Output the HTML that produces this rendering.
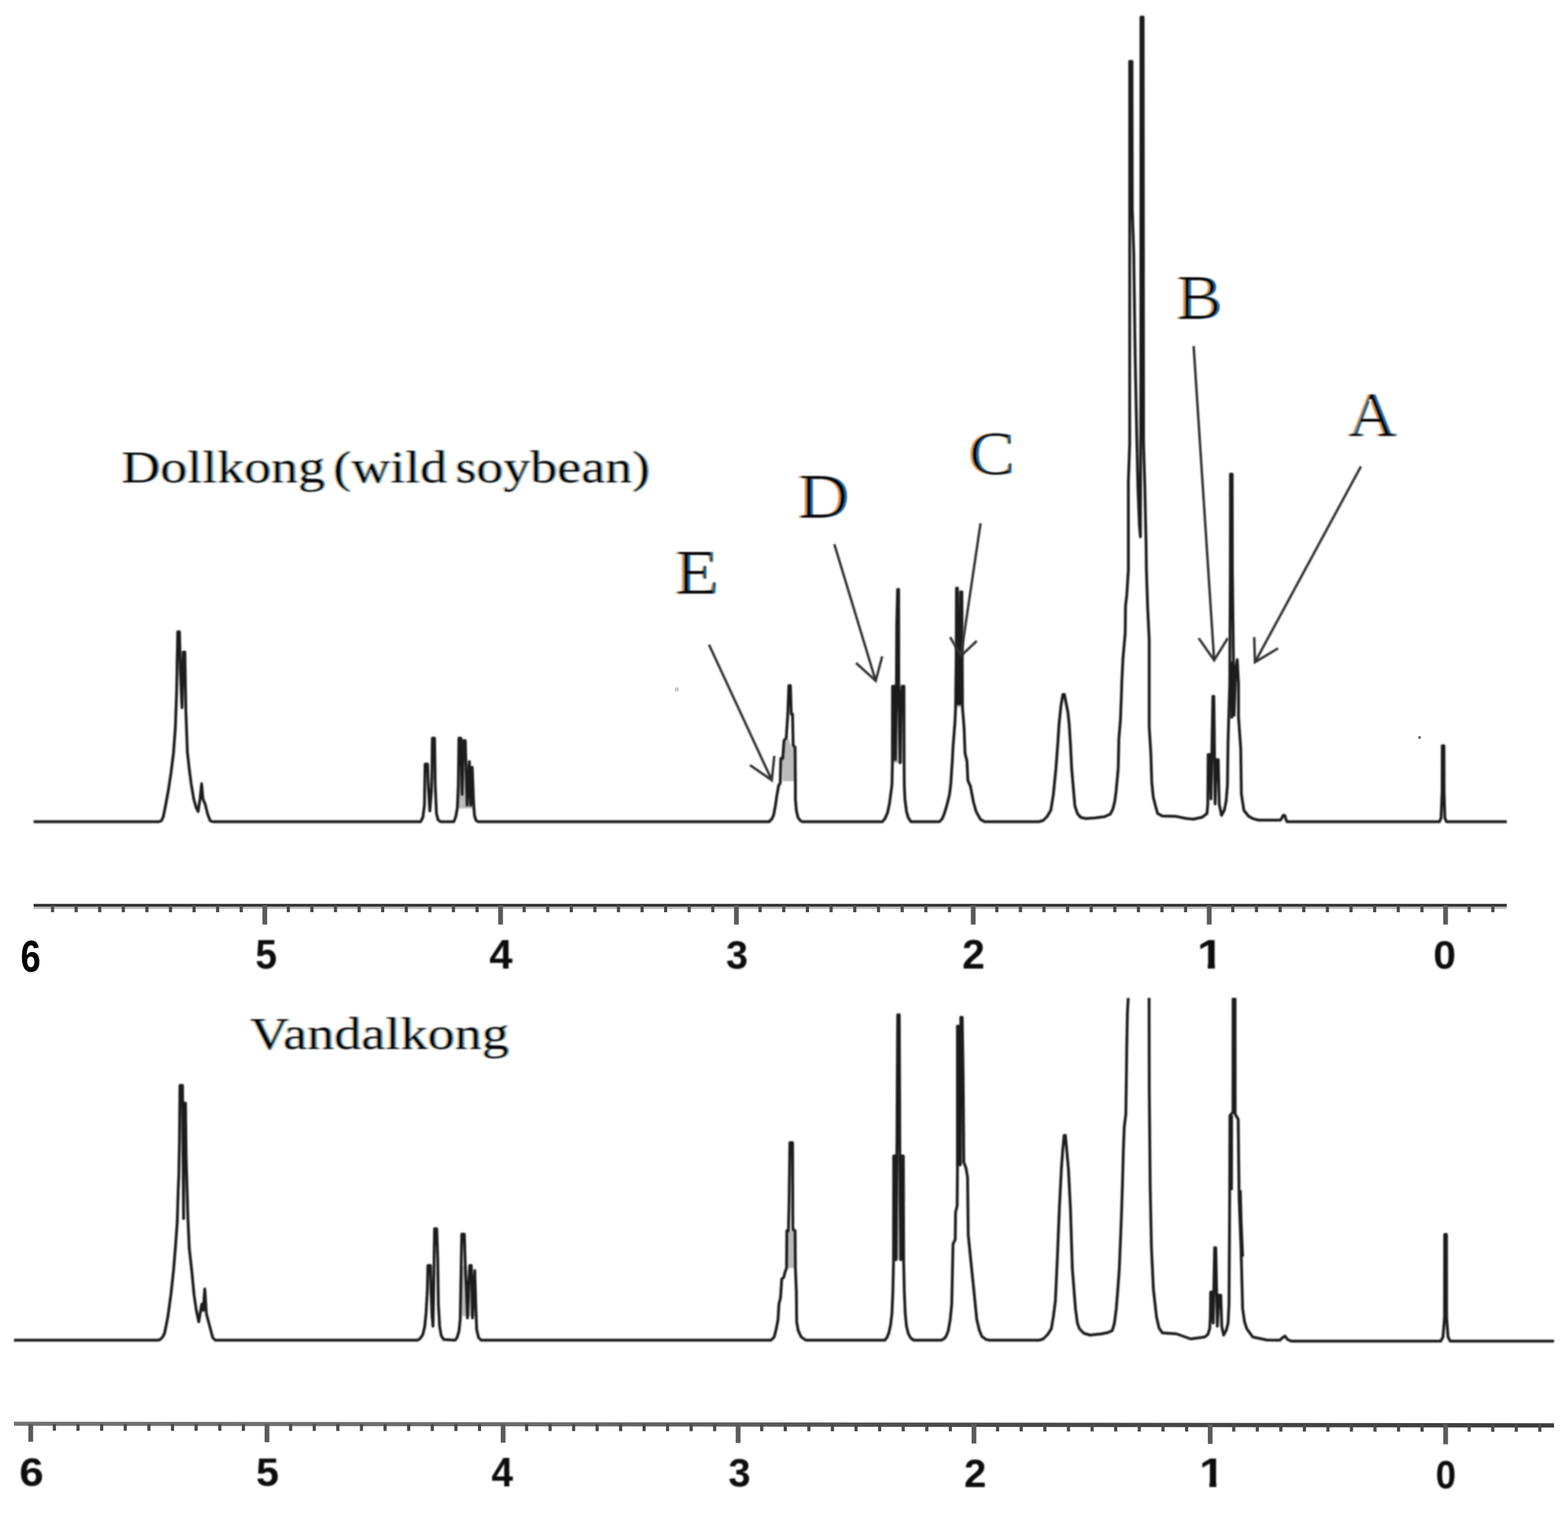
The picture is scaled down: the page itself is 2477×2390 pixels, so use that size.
<!DOCTYPE html>
<html lang="en">
<head>
<meta charset="utf-8">
<title>NMR spectra</title>
<style>
html,body{margin:0;padding:0;background:#fff;}
body{width:2477px;height:2390px;overflow:hidden;}
svg{display:block;}
</style>
</head>
<body>
<svg width="2477" height="2390" viewBox="0 0 2477 2390">
<rect width="2477" height="2390" fill="#fff"/>
<defs>
<filter id="soft" x="-2%" y="-2%" width="104%" height="104%"><feGaussianBlur stdDeviation="0.8"/></filter>
<filter id="soft2" x="-5%" y="-20%" width="110%" height="140%"><feGaussianBlur stdDeviation="1.3"/></filter>
<filter id="ct" x="-5%" y="-10%" width="110%" height="120%" color-interpolation-filters="sRGB">
<feOffset in="SourceAlpha" dx="-1" result="a1"/>
<feOffset in="SourceAlpha" dx="3" result="a2"/>
<feComposite in="a1" in2="a2" operator="out" result="lband"/>
<feFlood flood-color="#dc8c3c"/>
<feComposite in2="lband" operator="in" result="L"/>
<feOffset in="SourceAlpha" dx="1" result="b1"/>
<feOffset in="SourceAlpha" dx="-3" result="b2"/>
<feComposite in="b1" in2="b2" operator="out" result="rband"/>
<feFlood flood-color="#0a6ac4"/>
<feComposite in2="rband" operator="in" result="R"/>
<feBlend in="L" in2="R" mode="multiply" result="LR"/>
<feMorphology in="SourceAlpha" operator="erode" radius="3 0" result="core"/>
<feMerge><feMergeNode in="LR"/><feMergeNode in="core"/></feMerge>
<feGaussianBlur stdDeviation="0.8"/>
</filter>
<filter id="ct2" x="-5%" y="-10%" width="110%" height="120%" color-interpolation-filters="sRGB">
<feOffset in="SourceAlpha" dx="-2" result="a1"/>
<feOffset in="SourceAlpha" dx="1" result="a2"/>
<feComposite in="a1" in2="a2" operator="out" result="lband"/>
<feFlood flood-color="#f0b870"/>
<feComposite in2="lband" operator="in" result="L"/>
<feOffset in="SourceAlpha" dx="2" result="b1"/>
<feOffset in="SourceAlpha" dx="-1" result="b2"/>
<feComposite in="b1" in2="b2" operator="out" result="rband"/>
<feFlood flood-color="#4a9eea"/>
<feComposite in2="rband" operator="in" result="R"/>
<feBlend in="L" in2="R" mode="multiply" result="LR"/>
<feMorphology in="SourceAlpha" operator="erode" radius="1 0" result="core"/>
<feMerge><feMergeNode in="LR"/><feMergeNode in="core"/></feMerge>
<feGaussianBlur stdDeviation="0.8"/>
</filter>
</defs>
<g fill="none" stroke="#1e1e1e" stroke-width="4.5" stroke-linejoin="round" stroke-linecap="butt" filter="url(#soft)">
<polyline points="53.0,1298.0 251.0,1298.0 255.0,1296.5 258.0,1290.0 262.0,1270.0 266.0,1248.0 270.0,1222.0 274.0,1190.0 277.0,1150.0 279.0,1093.0 280.0,1040.0 280.8,998.0 283.5,998.0 285.0,1060.0 287.5,1118.0 289.5,1030.0 292.0,1030.0 293.5,1120.0 296.0,1188.0 299.0,1215.0 302.0,1238.0 306.0,1262.0 310.0,1276.0 313.0,1282.0 316.0,1262.0 318.5,1238.0 320.5,1262.0 324.0,1270.0 328.0,1286.0 332.0,1296.5 336.0,1298.0 664.5,1298.0 668.0,1291.0 670.5,1272.0 671.5,1207.0 675.5,1207.0 676.5,1240.0 679.0,1281.0 681.5,1250.0 682.3,1225.0 683.0,1166.0 686.5,1166.0 687.5,1240.0 689.5,1285.0 692.0,1295.0 696.0,1298.0 717.0,1298.0 720.0,1290.0 722.5,1276.0 724.0,1240.0 725.0,1166.0 728.0,1166.0 730.0,1255.0 732.0,1170.0 735.0,1170.0 738.0,1272.0 741.5,1203.0 743.6,1272.0 746.0,1212.0 748.0,1265.0 749.5,1288.0 752.0,1296.0 755.0,1298.0 1214.8,1298.0 1219.0,1294.0 1222.0,1288.0 1225.0,1272.0 1227.0,1258.0 1230.0,1241.0 1232.5,1237.0 1233.5,1198.0 1236.5,1198.0 1238.5,1170.0 1242.0,1166.0 1244.5,1128.0 1246.2,1083.0 1248.6,1083.0 1250.0,1128.0 1252.0,1128.0 1253.0,1178.0 1256.0,1180.0 1256.5,1238.0 1256.5,1262.0 1258.0,1280.0 1260.5,1291.0 1264.0,1296.0 1267.0,1298.0 1394.0,1298.0 1398.0,1293.0 1402.0,1284.0 1405.0,1270.0 1407.0,1255.0 1409.0,1240.0 1409.8,1205.0 1410.0,1084.0 1414.0,1084.0 1414.5,1200.0 1416.0,1100.0 1416.6,988.0 1418.0,931.0 1419.6,931.0 1419.8,1082.0 1422.0,1205.0 1424.0,1100.0 1425.0,1084.0 1428.0,1084.0 1428.2,1205.0 1428.5,1240.0 1429.5,1262.0 1432.0,1282.0 1435.0,1292.0 1439.0,1298.0 1484.0,1298.0 1488.0,1294.0 1491.5,1286.0 1495.5,1273.0 1500.0,1255.0 1502.0,1238.0 1504.5,1200.0 1505.5,1180.0 1508.5,1142.0 1509.5,1120.0 1510.5,1040.0 1511.0,929.0 1512.5,929.0 1513.5,1112.0 1516.0,1112.0 1517.5,935.0 1519.5,935.0 1520.5,1118.0 1523.0,1150.0 1524.5,1190.0 1527.5,1202.0 1529.0,1233.0 1533.0,1242.0 1537.8,1267.0 1542.0,1282.0 1549.0,1294.5 1555.5,1298.0 1641.0,1298.0 1648.0,1296.0 1654.0,1290.0 1660.0,1280.0 1664.0,1255.0 1668.0,1215.0 1671.0,1175.0 1673.0,1144.0 1676.0,1115.0 1679.0,1097.0 1681.5,1097.0 1684.0,1110.0 1687.0,1125.0 1689.0,1144.0 1691.0,1175.0 1693.0,1215.0 1696.0,1250.0 1698.0,1273.0 1702.0,1285.0 1707.0,1291.0 1715.0,1293.0 1730.0,1292.0 1745.0,1290.0 1754.0,1286.0 1758.0,1278.0 1761.0,1266.0 1763.0,1251.0 1765.0,1230.0 1766.5,1213.0 1767.5,1167.0 1770.0,1137.0 1771.8,1090.0 1772.0,1080.0 1774.0,1040.0 1777.5,1000.0 1778.0,957.0 1780.0,940.0 1782.5,900.0 1782.5,761.0 1784.6,700.0 1784.6,97.0 1788.2,97.0 1788.7,330.0 1791.0,400.0 1793.2,560.0 1795.6,680.0 1797.6,770.0 1800.0,830.0 1801.5,848.0 1802.2,600.0 1802.4,27.0 1805.8,27.0 1806.3,500.0 1806.5,700.0 1808.5,770.0 1810.5,860.0 1811.0,900.0 1813.0,960.0 1815.4,1010.0 1815.4,1148.0 1818.0,1190.0 1819.5,1236.0 1821.8,1259.0 1825.6,1274.0 1828.7,1285.0 1836.0,1289.0 1858.0,1289.6 1873.0,1292.7 1885.0,1294.0 1899.0,1291.0 1906.7,1285.0 1908.0,1270.0 1908.5,1192.0 1911.5,1192.0 1913.0,1262.0 1916.0,1100.0 1917.5,1100.0 1919.5,1270.0 1921.5,1200.0 1924.5,1200.0 1926.0,1270.0 1929.7,1288.0 1934.0,1280.0 1937.0,1265.0 1939.0,1240.0 1940.0,1170.0 1941.5,1120.0 1942.7,1080.0 1943.6,900.0 1943.8,749.0 1946.5,749.0 1946.8,900.0 1948.0,1000.0 1949.5,1130.0 1952.0,1060.0 1954.5,1042.0 1956.5,1080.0 1956.5,1133.0 1960.0,1182.0 1961.0,1254.0 1965.0,1280.0 1972.6,1289.6 1980.0,1293.4 1988.0,1295.5 2000.0,1295.5 2023.0,1295.5 2025.5,1291.0 2027.0,1288.0 2029.5,1288.0 2031.0,1293.0 2033.0,1298.0 2274.0,1298.0 2276.5,1292.0 2278.2,1250.0 2278.4,1178.0 2281.0,1178.0 2281.2,1250.0 2282.5,1292.0 2285.0,1298.0 2380.3,1298.0"/>
<polyline points="22.0,2117.0 250.0,2117.0 253.0,2116.0 257.0,2112.0 260.0,2106.0 265.0,2081.0 270.0,2045.0 274.0,2008.0 277.0,1972.0 280.0,1930.0 281.5,1880.0 282.5,1857.0 283.5,1800.0 284.3,1714.5 288.3,1714.5 289.0,1800.0 290.0,1925.0 290.8,1742.5 293.0,1742.5 294.0,1826.0 296.8,1923.0 299.0,1972.0 303.0,2008.0 306.5,2045.0 310.0,2069.0 314.0,2088.0 318.7,2060.0 321.0,2070.0 323.5,2036.0 326.0,2075.0 331.0,2094.0 336.0,2113.0 340.0,2117.0 660.0,2117.0 664.0,2114.0 668.0,2108.0 671.0,2095.0 673.0,2075.0 675.0,2040.0 676.0,1999.0 680.0,1999.0 681.0,2040.0 682.5,2078.0 684.0,2095.0 685.0,2040.0 686.5,1941.0 690.0,1941.0 691.5,1990.0 692.5,2060.0 694.5,2095.0 697.0,2110.0 701.0,2116.0 719.0,2117.0 722.0,2113.0 725.0,2103.0 727.0,2085.0 728.5,2000.0 729.5,1949.5 733.5,1949.5 735.0,2000.0 737.0,2040.0 738.5,2082.0 740.5,2030.0 742.0,1999.0 744.5,1999.0 746.5,2082.0 748.5,2030.0 750.0,2007.0 751.5,2060.0 753.0,2100.0 756.0,2113.0 760.0,2117.0 1218.0,2117.0 1223.0,2112.0 1226.0,2100.0 1229.0,2085.0 1230.5,2060.0 1233.0,2050.0 1235.0,2020.0 1238.0,2018.0 1240.0,2010.0 1242.5,2003.0 1243.0,1944.0 1245.5,1944.0 1246.5,1900.0 1247.8,1805.0 1252.0,1805.0 1252.5,1942.0 1256.0,1944.0 1256.5,2003.0 1258.0,2040.0 1258.5,2088.0 1261.0,2102.0 1265.7,2112.0 1273.0,2117.0 1397.8,2117.0 1401.0,2113.0 1404.0,2106.0 1407.0,2092.0 1409.0,2075.0 1410.5,2040.0 1411.5,1992.0 1411.8,1826.0 1415.0,1826.0 1415.5,1990.0 1417.0,1800.0 1417.5,1700.0 1418.2,1603.0 1420.6,1603.0 1421.0,1700.0 1421.5,1826.0 1423.0,1990.0 1425.0,1826.0 1427.0,1826.0 1427.5,1992.0 1428.5,2040.0 1430.0,2075.0 1432.0,2095.0 1435.0,2107.0 1439.0,2114.0 1443.7,2117.0 1487.0,2117.0 1491.0,2115.0 1494.5,2111.0 1498.0,2102.0 1501.0,2085.0 1503.5,2060.0 1505.0,1990.0 1505.5,1965.0 1509.0,1958.0 1509.5,1915.0 1512.0,1905.0 1512.5,1850.0 1512.5,1621.0 1514.5,1621.0 1515.5,1840.0 1517.0,1840.0 1517.8,1607.0 1520.0,1607.0 1521.5,1700.0 1522.5,1836.0 1526.0,1845.0 1528.5,1860.0 1529.5,1950.0 1534.0,1995.0 1538.5,2039.0 1543.0,2084.0 1547.0,2101.0 1551.0,2111.0 1557.8,2116.0 1563.0,2117.0 1642.0,2117.0 1648.0,2115.0 1655.0,2108.0 1660.8,2099.0 1664.0,2080.0 1667.2,2055.0 1670.3,1988.0 1673.5,1909.0 1676.7,1846.0 1679.0,1815.0 1681.0,1793.5 1683.0,1793.5 1685.0,1815.0 1687.8,1846.0 1691.0,1909.0 1694.0,2004.0 1699.0,2068.0 1702.0,2090.0 1705.3,2099.0 1712.0,2106.0 1722.0,2109.0 1740.0,2107.0 1750.0,2105.0 1757.0,2102.0 1760.5,2090.0 1763.4,2067.0 1766.0,2035.0 1768.2,2004.0 1770.0,1960.0 1771.4,1925.0 1773.0,1877.0 1774.5,1820.0 1776.0,1780.0 1778.5,1760.0 1779.5,1690.0 1780.0,1650.0 1781.0,1600.0 1782.3,1576.3"/>
<polyline points="1815.2,1576.3 1815.5,1718.0 1817.0,1877.0 1819.0,1972.0 1822.0,2036.0 1826.9,2080.0 1831.0,2098.0 1836.4,2105.6 1858.6,2107.0 1880.8,2115.0 1903.0,2112.0 1908.0,2108.0 1911.0,2099.0 1912.0,2080.0 1912.5,2041.0 1915.0,2041.0 1916.5,2090.0 1918.8,1971.0 1920.6,1971.0 1923.0,2095.0 1925.5,2046.0 1928.5,2046.0 1930.0,2095.0 1933.0,2109.0 1937.0,2102.0 1940.0,2090.0 1941.5,2060.0 1942.5,1900.0 1943.0,1762.0 1947.8,1757.0 1948.0,1576.3"/>
<polyline points="1951.0,1576.3 1951.2,1760.0 1956.0,1768.0 1957.5,1893.0 1960.5,1972.0 1963.0,2067.0 1966.0,2088.0 1969.6,2099.0 1979.0,2112.0 2001.4,2116.7 2022.0,2117.0 2026.0,2113.0 2030.0,2110.5 2034.0,2116.0 2040.0,2118.5 2276.0,2118.5 2279.5,2112.0 2282.0,2080.0 2282.2,1950.0 2285.0,1950.0 2285.2,2080.0 2287.5,2112.0 2291.0,2118.5 2455.0,2118.5"/>
<polyline points="1945.6,1762 1945.4,1880"/>
<polyline points="1959.3,1880 1960.6,1930 1963,1985"/>
<polyline points="1945.8,1045 1945.8,1135"/>
<polygon stroke="none" fill="#202020" fill-opacity="0.3" points="725,1192 737,1192 739,1215 747.5,1226 748.5,1277 725,1277"/>
<polygon stroke="none" fill="#202020" fill-opacity="0.3" points="730,2000 736,2000 738.5,2027 748,2030 749.5,2079 730,2079"/>
<polygon stroke="none" fill="#202020" fill-opacity="0.3" points="1510,968 1522,968 1522,1117 1510,1117"/>
<polygon stroke="none" fill="#202020" fill-opacity="0.3" points="1513,1690 1523,1690 1523,1838 1513,1838"/>
<polygon stroke="none" fill="#202020" fill-opacity="0.3" points="1236,1200 1240,1172 1246,1166 1250,1180 1256,1182 1256,1234 1236,1234"/>
<polygon stroke="none" fill="#202020" fill-opacity="0.3" points="1242,1944 1257,1944 1257,2003 1242,2003"/>
<polygon stroke="none" fill="#202020" fill-opacity="0.3" points="1409,1086 1421,1086 1425.5,1131 1425.5,1205 1409,1205"/>
<polygon stroke="none" fill="#202020" fill-opacity="0.3" points="1411,1830 1427,1830 1427,1990 1411,1990"/>
</g>
<g fill="none" stroke="#333" stroke-width="3.9" stroke-linecap="butt" stroke-linejoin="miter" filter="url(#soft)">
<line x1="1120" y1="1018.3" x2="1219.2" y2="1232.4"/>
<polyline points="1184.8,1208.6 1219.2,1232.4 1223.2,1194"/>
<line x1="1318" y1="859.6" x2="1383.4" y2="1075.5"/>
<polyline points="1352.3,1047.3 1383.4,1075.5 1393.6,1036.7"/>
<line x1="1549" y1="826.5" x2="1518" y2="1036"/>
<polyline points="1501,1006.5 1518,1036 1543,1012.5"/>
<line x1="1885.6" y1="546.5" x2="1918" y2="1043"/>
<polyline points="1893.6,1008 1918,1043 1939.6,1008"/>
<line x1="2149.9" y1="736.7" x2="1982.5" y2="1046"/>
<polyline points="1981.3,1006.4 1982.5,1046 2019,1024.2"/>
</g>
<line x1="53" y1="1434.0" x2="2380.3" y2="1434.0" stroke="#bbb" stroke-width="3.6"/>
<line x1="53" y1="1430" x2="2380.3" y2="1430" stroke="#333" stroke-width="4.4"/>
<line x1="2358.3" y1="1430" x2="2358.3" y2="1441.0" stroke="#4a4a4a" stroke-width="5"/>
<line x1="2320.9" y1="1430" x2="2320.9" y2="1441.0" stroke="#4a4a4a" stroke-width="5"/>
<line x1="2283.6" y1="1430" x2="2283.6" y2="1460.5" stroke="#5a5a5a" stroke-width="7.5"/>
<line x1="2246.3" y1="1430" x2="2246.3" y2="1441.0" stroke="#4a4a4a" stroke-width="5"/>
<line x1="2208.9" y1="1430" x2="2208.9" y2="1441.0" stroke="#4a4a4a" stroke-width="5"/>
<line x1="2171.6" y1="1430" x2="2171.6" y2="1441.0" stroke="#4a4a4a" stroke-width="5"/>
<line x1="2134.2" y1="1430" x2="2134.2" y2="1441.0" stroke="#4a4a4a" stroke-width="5"/>
<line x1="2096.9" y1="1430" x2="2096.9" y2="1441.0" stroke="#4a4a4a" stroke-width="5"/>
<line x1="2059.6" y1="1430" x2="2059.6" y2="1441.0" stroke="#4a4a4a" stroke-width="5"/>
<line x1="2022.2" y1="1430" x2="2022.2" y2="1441.0" stroke="#4a4a4a" stroke-width="5"/>
<line x1="1984.9" y1="1430" x2="1984.9" y2="1441.0" stroke="#4a4a4a" stroke-width="5"/>
<line x1="1947.5" y1="1430" x2="1947.5" y2="1441.0" stroke="#4a4a4a" stroke-width="5"/>
<line x1="1910.2" y1="1430" x2="1910.2" y2="1460.5" stroke="#5a5a5a" stroke-width="7.5"/>
<line x1="1872.9" y1="1430" x2="1872.9" y2="1441.0" stroke="#4a4a4a" stroke-width="5"/>
<line x1="1835.6" y1="1430" x2="1835.6" y2="1441.0" stroke="#4a4a4a" stroke-width="5"/>
<line x1="1798.4" y1="1430" x2="1798.4" y2="1441.0" stroke="#4a4a4a" stroke-width="5"/>
<line x1="1761.1" y1="1430" x2="1761.1" y2="1441.0" stroke="#4a4a4a" stroke-width="5"/>
<line x1="1723.8" y1="1430" x2="1723.8" y2="1441.0" stroke="#4a4a4a" stroke-width="5"/>
<line x1="1686.5" y1="1430" x2="1686.5" y2="1441.0" stroke="#4a4a4a" stroke-width="5"/>
<line x1="1649.2" y1="1430" x2="1649.2" y2="1441.0" stroke="#4a4a4a" stroke-width="5"/>
<line x1="1612.0" y1="1430" x2="1612.0" y2="1441.0" stroke="#4a4a4a" stroke-width="5"/>
<line x1="1574.7" y1="1430" x2="1574.7" y2="1441.0" stroke="#4a4a4a" stroke-width="5"/>
<line x1="1537.4" y1="1430" x2="1537.4" y2="1460.5" stroke="#5a5a5a" stroke-width="7.5"/>
<line x1="1500.0" y1="1430" x2="1500.0" y2="1441.0" stroke="#4a4a4a" stroke-width="5"/>
<line x1="1462.6" y1="1430" x2="1462.6" y2="1441.0" stroke="#4a4a4a" stroke-width="5"/>
<line x1="1425.2" y1="1430" x2="1425.2" y2="1441.0" stroke="#4a4a4a" stroke-width="5"/>
<line x1="1387.8" y1="1430" x2="1387.8" y2="1441.0" stroke="#4a4a4a" stroke-width="5"/>
<line x1="1350.3" y1="1430" x2="1350.3" y2="1441.0" stroke="#4a4a4a" stroke-width="5"/>
<line x1="1312.9" y1="1430" x2="1312.9" y2="1441.0" stroke="#4a4a4a" stroke-width="5"/>
<line x1="1275.5" y1="1430" x2="1275.5" y2="1441.0" stroke="#4a4a4a" stroke-width="5"/>
<line x1="1238.1" y1="1430" x2="1238.1" y2="1441.0" stroke="#4a4a4a" stroke-width="5"/>
<line x1="1200.7" y1="1430" x2="1200.7" y2="1441.0" stroke="#4a4a4a" stroke-width="5"/>
<line x1="1163.3" y1="1430" x2="1163.3" y2="1460.5" stroke="#5a5a5a" stroke-width="7.5"/>
<line x1="1126.0" y1="1430" x2="1126.0" y2="1441.0" stroke="#4a4a4a" stroke-width="5"/>
<line x1="1088.8" y1="1430" x2="1088.8" y2="1441.0" stroke="#4a4a4a" stroke-width="5"/>
<line x1="1051.5" y1="1430" x2="1051.5" y2="1441.0" stroke="#4a4a4a" stroke-width="5"/>
<line x1="1014.3" y1="1430" x2="1014.3" y2="1441.0" stroke="#4a4a4a" stroke-width="5"/>
<line x1="977.0" y1="1430" x2="977.0" y2="1441.0" stroke="#4a4a4a" stroke-width="5"/>
<line x1="939.8" y1="1430" x2="939.8" y2="1441.0" stroke="#4a4a4a" stroke-width="5"/>
<line x1="902.5" y1="1430" x2="902.5" y2="1441.0" stroke="#4a4a4a" stroke-width="5"/>
<line x1="865.3" y1="1430" x2="865.3" y2="1441.0" stroke="#4a4a4a" stroke-width="5"/>
<line x1="828.0" y1="1430" x2="828.0" y2="1441.0" stroke="#4a4a4a" stroke-width="5"/>
<line x1="790.8" y1="1430" x2="790.8" y2="1460.5" stroke="#5a5a5a" stroke-width="7.5"/>
<line x1="753.6" y1="1430" x2="753.6" y2="1441.0" stroke="#4a4a4a" stroke-width="5"/>
<line x1="716.3" y1="1430" x2="716.3" y2="1441.0" stroke="#4a4a4a" stroke-width="5"/>
<line x1="679.1" y1="1430" x2="679.1" y2="1441.0" stroke="#4a4a4a" stroke-width="5"/>
<line x1="641.8" y1="1430" x2="641.8" y2="1441.0" stroke="#4a4a4a" stroke-width="5"/>
<line x1="604.5" y1="1430" x2="604.5" y2="1441.0" stroke="#4a4a4a" stroke-width="5"/>
<line x1="567.3" y1="1430" x2="567.3" y2="1441.0" stroke="#4a4a4a" stroke-width="5"/>
<line x1="530.0" y1="1430" x2="530.0" y2="1441.0" stroke="#4a4a4a" stroke-width="5"/>
<line x1="492.8" y1="1430" x2="492.8" y2="1441.0" stroke="#4a4a4a" stroke-width="5"/>
<line x1="455.5" y1="1430" x2="455.5" y2="1441.0" stroke="#4a4a4a" stroke-width="5"/>
<line x1="418.3" y1="1430" x2="418.3" y2="1460.5" stroke="#5a5a5a" stroke-width="7.5"/>
<line x1="381.1" y1="1430" x2="381.1" y2="1441.0" stroke="#4a4a4a" stroke-width="5"/>
<line x1="343.8" y1="1430" x2="343.8" y2="1441.0" stroke="#4a4a4a" stroke-width="5"/>
<line x1="306.6" y1="1430" x2="306.6" y2="1441.0" stroke="#4a4a4a" stroke-width="5"/>
<line x1="269.3" y1="1430" x2="269.3" y2="1441.0" stroke="#4a4a4a" stroke-width="5"/>
<line x1="232.1" y1="1430" x2="232.1" y2="1441.0" stroke="#4a4a4a" stroke-width="5"/>
<line x1="194.8" y1="1430" x2="194.8" y2="1441.0" stroke="#4a4a4a" stroke-width="5"/>
<line x1="157.5" y1="1430" x2="157.5" y2="1441.0" stroke="#4a4a4a" stroke-width="5"/>
<line x1="120.3" y1="1430" x2="120.3" y2="1441.0" stroke="#4a4a4a" stroke-width="5"/>
<line x1="83.0" y1="1430" x2="83.0" y2="1441.0" stroke="#4a4a4a" stroke-width="5"/>

<linearGradient id="axg" gradientUnits="userSpaceOnUse" x1="22" y1="0" x2="2455" y2="0"><stop offset="0" stop-color="#727272"/><stop offset="0.35" stop-color="#6a6a6a"/><stop offset="0.6" stop-color="#4a4a4a"/><stop offset="1" stop-color="#3c3c3c"/></linearGradient>
<line x1="22" y1="2249" x2="2455" y2="2251.6" stroke="url(#axg)" stroke-width="6.6"/>
<line x1="2432.5" y1="2249.5" x2="2432.5" y2="2261.7" stroke="#4a4a4a" stroke-width="5"/>
<line x1="2395.3" y1="2249.5" x2="2395.3" y2="2261.7" stroke="#4a4a4a" stroke-width="5"/>
<line x1="2358.1" y1="2249.5" x2="2358.1" y2="2261.7" stroke="#4a4a4a" stroke-width="5"/>
<line x1="2320.9" y1="2249.5" x2="2320.9" y2="2261.6" stroke="#4a4a4a" stroke-width="5"/>
<line x1="2283.7" y1="2249.5" x2="2283.7" y2="2281.5" stroke="#5a5a5a" stroke-width="7.5"/>
<line x1="2246.5" y1="2249.5" x2="2246.5" y2="2261.6" stroke="#4a4a4a" stroke-width="5"/>
<line x1="2209.3" y1="2249.5" x2="2209.3" y2="2261.5" stroke="#4a4a4a" stroke-width="5"/>
<line x1="2172.1" y1="2249.5" x2="2172.1" y2="2261.5" stroke="#4a4a4a" stroke-width="5"/>
<line x1="2134.9" y1="2249.5" x2="2134.9" y2="2261.5" stroke="#4a4a4a" stroke-width="5"/>
<line x1="2097.8" y1="2249.5" x2="2097.8" y2="2261.5" stroke="#4a4a4a" stroke-width="5"/>
<line x1="2060.6" y1="2249.5" x2="2060.6" y2="2261.4" stroke="#4a4a4a" stroke-width="5"/>
<line x1="2023.4" y1="2249.5" x2="2023.4" y2="2261.4" stroke="#4a4a4a" stroke-width="5"/>
<line x1="1986.2" y1="2249.5" x2="1986.2" y2="2261.4" stroke="#4a4a4a" stroke-width="5"/>
<line x1="1949.0" y1="2249.5" x2="1949.0" y2="2261.4" stroke="#4a4a4a" stroke-width="5"/>
<line x1="1911.8" y1="2249.5" x2="1911.8" y2="2280.8" stroke="#5a5a5a" stroke-width="7.5"/>
<line x1="1874.5" y1="2249.5" x2="1874.5" y2="2261.3" stroke="#4a4a4a" stroke-width="5"/>
<line x1="1837.2" y1="2249.5" x2="1837.2" y2="2261.3" stroke="#4a4a4a" stroke-width="5"/>
<line x1="1799.8" y1="2249.5" x2="1799.8" y2="2261.3" stroke="#4a4a4a" stroke-width="5"/>
<line x1="1762.5" y1="2249.5" x2="1762.5" y2="2261.2" stroke="#4a4a4a" stroke-width="5"/>
<line x1="1725.2" y1="2249.5" x2="1725.2" y2="2261.2" stroke="#4a4a4a" stroke-width="5"/>
<line x1="1687.9" y1="2249.5" x2="1687.9" y2="2261.2" stroke="#4a4a4a" stroke-width="5"/>
<line x1="1650.6" y1="2249.5" x2="1650.6" y2="2261.2" stroke="#4a4a4a" stroke-width="5"/>
<line x1="1613.2" y1="2249.5" x2="1613.2" y2="2261.1" stroke="#4a4a4a" stroke-width="5"/>
<line x1="1575.9" y1="2249.5" x2="1575.9" y2="2261.1" stroke="#4a4a4a" stroke-width="5"/>
<line x1="1538.6" y1="2249.5" x2="1538.6" y2="2280.2" stroke="#5a5a5a" stroke-width="7.5"/>
<line x1="1501.3" y1="2249.5" x2="1501.3" y2="2261.0" stroke="#4a4a4a" stroke-width="5"/>
<line x1="1464.1" y1="2249.5" x2="1464.1" y2="2261.0" stroke="#4a4a4a" stroke-width="5"/>
<line x1="1426.8" y1="2249.5" x2="1426.8" y2="2261.0" stroke="#4a4a4a" stroke-width="5"/>
<line x1="1389.6" y1="2249.5" x2="1389.6" y2="2261.0" stroke="#4a4a4a" stroke-width="5"/>
<line x1="1352.3" y1="2249.5" x2="1352.3" y2="2260.9" stroke="#4a4a4a" stroke-width="5"/>
<line x1="1315.0" y1="2249.5" x2="1315.0" y2="2260.9" stroke="#4a4a4a" stroke-width="5"/>
<line x1="1277.8" y1="2249.5" x2="1277.8" y2="2260.9" stroke="#4a4a4a" stroke-width="5"/>
<line x1="1240.5" y1="2249.5" x2="1240.5" y2="2260.9" stroke="#4a4a4a" stroke-width="5"/>
<line x1="1203.3" y1="2249.5" x2="1203.3" y2="2260.8" stroke="#4a4a4a" stroke-width="5"/>
<line x1="1166.0" y1="2249.5" x2="1166.0" y2="2279.5" stroke="#5a5a5a" stroke-width="7.5"/>
<line x1="1128.9" y1="2249.5" x2="1128.9" y2="2260.8" stroke="#4a4a4a" stroke-width="5"/>
<line x1="1091.8" y1="2249.5" x2="1091.8" y2="2260.8" stroke="#4a4a4a" stroke-width="5"/>
<line x1="1054.6" y1="2249.5" x2="1054.6" y2="2260.7" stroke="#4a4a4a" stroke-width="5"/>
<line x1="1017.5" y1="2249.5" x2="1017.5" y2="2260.7" stroke="#4a4a4a" stroke-width="5"/>
<line x1="980.4" y1="2249.5" x2="980.4" y2="2260.7" stroke="#4a4a4a" stroke-width="5"/>
<line x1="943.3" y1="2249.5" x2="943.3" y2="2260.7" stroke="#4a4a4a" stroke-width="5"/>
<line x1="906.2" y1="2249.5" x2="906.2" y2="2260.6" stroke="#4a4a4a" stroke-width="5"/>
<line x1="869.0" y1="2249.5" x2="869.0" y2="2260.6" stroke="#4a4a4a" stroke-width="5"/>
<line x1="831.9" y1="2249.5" x2="831.9" y2="2260.6" stroke="#4a4a4a" stroke-width="5"/>
<line x1="794.8" y1="2249.5" x2="794.8" y2="2278.9" stroke="#5a5a5a" stroke-width="7.5"/>
<line x1="757.5" y1="2249.5" x2="757.5" y2="2260.5" stroke="#4a4a4a" stroke-width="5"/>
<line x1="720.2" y1="2249.5" x2="720.2" y2="2260.5" stroke="#4a4a4a" stroke-width="5"/>
<line x1="682.9" y1="2249.5" x2="682.9" y2="2260.5" stroke="#4a4a4a" stroke-width="5"/>
<line x1="645.6" y1="2249.5" x2="645.6" y2="2260.4" stroke="#4a4a4a" stroke-width="5"/>
<line x1="608.3" y1="2249.5" x2="608.3" y2="2260.4" stroke="#4a4a4a" stroke-width="5"/>
<line x1="571.0" y1="2249.5" x2="571.0" y2="2260.4" stroke="#4a4a4a" stroke-width="5"/>
<line x1="533.7" y1="2249.5" x2="533.7" y2="2260.4" stroke="#4a4a4a" stroke-width="5"/>
<line x1="496.4" y1="2249.5" x2="496.4" y2="2260.3" stroke="#4a4a4a" stroke-width="5"/>
<line x1="459.1" y1="2249.5" x2="459.1" y2="2260.3" stroke="#4a4a4a" stroke-width="5"/>
<line x1="421.8" y1="2249.5" x2="421.8" y2="2278.2" stroke="#5a5a5a" stroke-width="7.5"/>
<line x1="384.5" y1="2249.5" x2="384.5" y2="2260.3" stroke="#4a4a4a" stroke-width="5"/>
<line x1="347.2" y1="2249.5" x2="347.2" y2="2260.2" stroke="#4a4a4a" stroke-width="5"/>
<line x1="309.8" y1="2249.5" x2="309.8" y2="2260.2" stroke="#4a4a4a" stroke-width="5"/>
<line x1="272.5" y1="2249.5" x2="272.5" y2="2260.2" stroke="#4a4a4a" stroke-width="5"/>
<line x1="235.2" y1="2249.5" x2="235.2" y2="2260.2" stroke="#4a4a4a" stroke-width="5"/>
<line x1="197.9" y1="2249.5" x2="197.9" y2="2260.1" stroke="#4a4a4a" stroke-width="5"/>
<line x1="160.6" y1="2249.5" x2="160.6" y2="2260.1" stroke="#4a4a4a" stroke-width="5"/>
<line x1="123.2" y1="2249.5" x2="123.2" y2="2260.1" stroke="#4a4a4a" stroke-width="5"/>
<line x1="85.9" y1="2249.5" x2="85.9" y2="2260.0" stroke="#4a4a4a" stroke-width="5"/>
<line x1="48.6" y1="2249.5" x2="48.6" y2="2277.5" stroke="#5a5a5a" stroke-width="7.5"/>

<rect x="1066" y="1086" width="6" height="6" fill="#c8c8c8"/>
<rect x="2240.5" y="1163" width="4" height="4" fill="#666"/>
<g font-family="'Liberation Sans', sans-serif" font-weight="bold" fill="#000">
<text transform="translate(32.41,1535.30) scale(0.8218,1)" font-size="69.72">6</text>
</g>
<g font-family="'Liberation Sans', sans-serif" font-weight="bold" fill="#0a0a0a" filter="url(#soft2)">
<text transform="translate(403.46,1529.76) scale(0.9541,1)" font-size="64.14">5</text>
<text transform="translate(773.08,1530.40) scale(1.0148,1)" font-size="65.07">4</text>
<text transform="translate(1146.96,1529.77) scale(0.9836,1)" font-size="63.24">3</text>
<text transform="translate(1520.07,1530.40) scale(1.0022,1)" font-size="64.14">2</text>
<clipPath id="one1" clipPathUnits="userSpaceOnUse"><rect x="1881.0" y="1478.3" width="72.5" height="42.9"/><rect x="1907.9" y="1520.6" width="11.2" height="12.8"/></clipPath><g clip-path="url(#one1)"><text transform="translate(1891.05,1530.40) scale(1.1526,1)" font-size="65.07">1</text></g>
<text transform="translate(2264.23,1529.77) scale(1.0161,1)" font-size="63.24">0</text>
<text transform="translate(30.43,2346.57) scale(1.0986,1)" font-size="62.96">6</text>
<text transform="translate(404.55,2346.76) scale(1.0179,1)" font-size="63.86">5</text>
<text transform="translate(776.58,2347.70) scale(0.9436,1)" font-size="64.78">4</text>
<text transform="translate(1150.74,2347.57) scale(0.9975,1)" font-size="62.96">3</text>
<text transform="translate(1523.10,2348.70) scale(0.9907,1)" font-size="63.86">2</text>
<clipPath id="one2" clipPathUnits="userSpaceOnUse"><rect x="1884.5" y="2297.4" width="70.2" height="42.8"/><rect x="1910.6" y="2339.5" width="10.8" height="12.7"/></clipPath><g clip-path="url(#one2)"><text transform="translate(1894.48,2349.20) scale(1.1063,1)" font-size="64.78">1</text></g>
<text transform="translate(2268.09,2350.97) scale(0.9158,1)" font-size="62.96">0</text>
</g>
<g font-family="'Liberation Serif', serif" fill="#000" filter="url(#ct2)">
<text transform="translate(191.5,762) scale(1.17,1)" font-size="72.8" word-spacing="-7">Dollkong (wild soybean)</text>
<text transform="translate(394.5,1657.4) scale(1.177,1)" font-size="72.8">Vandalkong</text>
</g>
<g font-family="'Liberation Serif', serif" fill="#000" filter="url(#ct)">
<text transform="translate(1065.55,937.00) scale(1.1509,1)" font-size="100.00">E</text>
<text transform="translate(1259.58,817.00) scale(1.1385,1)" font-size="100.00">D</text>
<text transform="translate(1529.58,748.74) scale(1.1278,1)" font-size="98.00">C</text>
<text transform="translate(1857.69,503.00) scale(1.1017,1)" font-size="100.00">B</text>
<text transform="translate(2128.93,688.70) scale(1.0823,1)" font-size="99.00">A</text>
</g>
</svg>
</body>
</html>
